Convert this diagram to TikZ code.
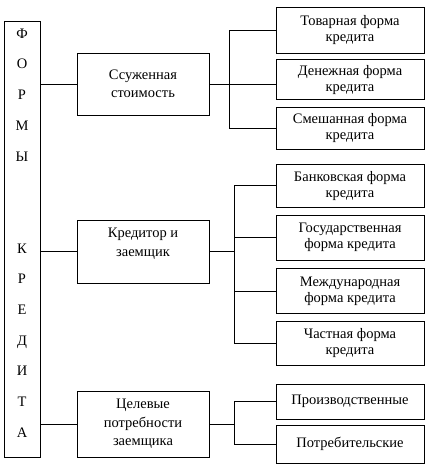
\documentclass[tikz,border=0pt]{standalone}
\usepackage{fontspec}
\setmainfont{Liberation Serif}
\usetikzlibrary{positioning}

\begin{document}
\begin{tikzpicture}[
  x=1pt, y=-1pt, line width=0.75pt,
  node distance=6pt,
  formbox/.style={rectangle, draw=black, minimum width=36pt, minimum height=436pt},
  letters/.style={align=center, inner sep=0pt, font=\fontsize{14.5}{30.7}\selectfont},
  mainbox/.style={rectangle, draw=black, minimum width=132pt, inner sep=2pt,
                  align=center, font=\fontsize{14.5}{18.5}\selectfont},
  kindbox/.style={rectangle, draw=black, minimum width=148pt, inner sep=2pt,
                  align=center, font=\fontsize{14.5}{16}\selectfont},
  link/.style={draw=black},
]
  \useasboundingbox (0,0) rectangle (433,464);

  % Left column
  \node[formbox] (forms) at (22,239) {};
  \node[letters] (title) at (22,233) {Ф\\О\\Р\\М\\Ы\\[61.4pt]К\\Р\\Е\\Д\\И\\Т\\А};

  % Criteria (middle column)
  \node[mainbox, minimum height=62pt] (cost)   at (143,84)    {Ссуженная\\стоимость};
  \node[mainbox, minimum height=63pt] (party)  at (143,251.5) {Кредитор и\\заемщик\\\mbox{}};
  \node[mainbox, minimum height=66pt] (target) at (143,424)   {Целевые\\потребности\\заемщика};

  % Kinds of credit (right column)
  \node[kindbox, minimum height=46pt] (goods) at (350,30) {Товарная форма\\кредита};
  \node[kindbox, minimum height=40pt, below=6pt of goods] (money) {Денежная форма\\кредита};
  \node[kindbox, minimum height=42pt, below=7pt of money] (mixed) {Смешанная форма\\кредита};
  \node[kindbox, minimum height=43pt, below=14pt of mixed] (bank) {Банковская форма\\кредита};
  \node[kindbox, minimum height=45pt, below=7pt of bank]  (state) {Государственная\\форма кредита};
  \node[kindbox, minimum height=45pt, below=8pt of state] (intl)  {Международная\\форма кредита};
  \node[kindbox, minimum height=44pt, below=7pt of intl]  (priv)  {Частная форма\\кредита};
  \node[kindbox, minimum height=35pt, below=18pt of priv] (prod)  {Производственные};
  \node[kindbox, minimum height=38pt, below=5pt of prod]  (cons)  {Потребительские};

  % Links from the left column
  \draw[link] (cost.west)   -- (cost.west -| forms.east);
  \draw[link] (party.west)  -- (party.west -| forms.east);
  \draw[link] (target.west) -- (target.west -| forms.east);

  % Group 1
  \draw[link] (cost.east) -- (cost.east -| money.west);
  \coordinate (bus1) at ([xshift=20pt]cost.east);
  \draw[link] (goods.west) -| (bus1) |- (mixed.west);

  % Group 2
  \draw[link] (party.east) -- ++(25,0) coordinate (bus2);
  \draw[link] (bank.west) -| (bus2) |- (priv.west);
  \draw[link] (state.west) -- (state.west -| bus2);
  \draw[link] (intl.west)  -- (intl.west -| bus2);

  % Group 3
  \draw[link] (target.east) -- ++(25,0) coordinate (bus3);
  \draw[link] (prod.west) -| (bus3) |- (cons.west);

\end{tikzpicture}
\end{document}
